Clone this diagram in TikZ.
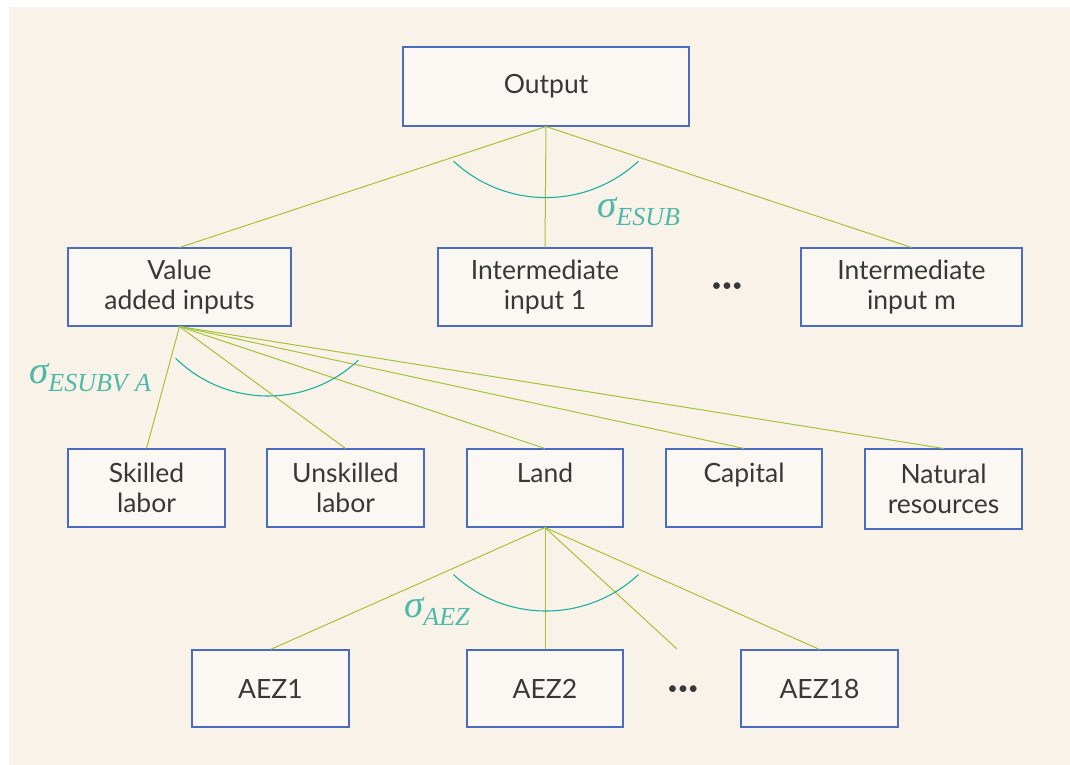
\documentclass[tikz,border=0pt]{standalone}
\usepackage{fontspec}
\setmainfont{Lato}
\newfontfamily\tmsf{Liberation Serif}
\definecolor{bgbeige}{HTML}{F9F2E9}
\definecolor{boxfill}{HTML}{FBF8F3}
\definecolor{boxblue}{HTML}{4A6CC0}
\definecolor{lnk}{HTML}{A6C236}
\definecolor{arcteal}{HTML}{1DB0A0}
\definecolor{sigteal}{HTML}{4CB9A9}
\definecolor{txt}{HTML}{383838}
\tikzset{
  box/.style={draw=boxblue, fill=boxfill, line width=1.1pt, inner sep=0pt,
    align=center, text=txt, font=\fontsize{26.5}{30}\selectfont},
  lnkline/.style={draw=lnk, line width=1pt},
  arcline/.style={draw=arcteal, line width=1.1pt},
  sig/.style={text=sigteal, inner sep=0pt, anchor=base west,
    font=\tmsf\itshape\fontsize{39}{39}\selectfont},
  dots/.style={text=txt, inner sep=0pt, font=\fontsize{18}{18}\selectfont}
}
\newcommand{\sigsub}[1]{\raisebox{-8pt}{\fontsize{26}{26}\selectfont #1}}
\begin{document}
\begin{tikzpicture}[x=1pt,y=1pt]
\useasboundingbox (0,0) rectangle (1070,-765);
\fill[white] (0,0) rectangle (1070,-765);
\fill[bgbeige] (9,-7) rectangle (1070,-765);

% boxes
\node[box, minimum width=286pt, minimum height=79pt] (out) at (546,-86.5) {Output};
\node[box, minimum width=223pt, minimum height=78pt] (va) at (179.5,-287) {Value\\added inputs};
\node[box, minimum width=214pt, minimum height=78pt] (ii1) at (545,-287) {Intermediate\\input 1};
\node[box, minimum width=221pt, minimum height=78pt] (iim) at (911.5,-287) {Intermediate\\input m};
\node[box, minimum width=157pt, minimum height=78pt] (sk) at (146.5,-488) {Skilled\\labor};
\node[box, minimum width=157pt, minimum height=78pt] (us) at (345.5,-488) {Unskilled\\labor};
\node[box, minimum width=156pt, minimum height=78pt] (land) at (545,-488) {Land\\~};
\node[box, minimum width=156pt, minimum height=78pt] (cap) at (744,-488) {Capital\\~};
\node[box, minimum width=157pt, minimum height=80pt] (nr) at (943.5,-489) {Natural\\resources};
\node[box, minimum width=157pt, minimum height=77pt] (a1) at (270.5,-688.5) {AEZ1};
\node[box, minimum width=156pt, minimum height=77pt] (a2) at (545,-688.5) {AEZ2};
\node[box, minimum width=157pt, minimum height=77pt] (a18) at (819.5,-688.5) {AEZ18};

\node[dots] (d1) at (727,-287) {•••};
\node[dots] (d2) at (683,-690) {•••};
\coordinate (free) at (677,-649);

% connectors
\draw[lnkline] (out.south) -- (va.north);
\draw[lnkline] (out.south) -- (ii1.north);
\draw[lnkline] (out.south) -- (iim.north);
\foreach \t in {sk,us,land,cap,nr} \draw[lnkline] (va.south) -- (\t.north);
\draw[lnkline] (land.south) -- (a1.north);
\draw[lnkline] (land.south) -- (a2.north);
\draw[lnkline] (land.south) -- (free);
\draw[lnkline] (land.south) -- (a18.north);

% arcs
\draw[arcline] (546,-62) ++(227:135.6) arc[start angle=227, end angle=313, radius=135.6];
\draw[arcline] (268,-264) ++(225.6:132) arc[start angle=225.6, end angle=313.2, radius=132];
\draw[arcline] (546,-475.4) ++(227:135.6) arc[start angle=227, end angle=313, radius=135.6];

% sigma labels
\node[sig] (s1) at (597,-217) {σ\sigsub{ESUB}};
\node[sig] (s2) at (29,-383) {σ\sigsub{ESUBV\;A}};
\node[sig] (s3) at (404,-617) {σ\sigsub{AEZ}};
\end{tikzpicture}
\end{document}
